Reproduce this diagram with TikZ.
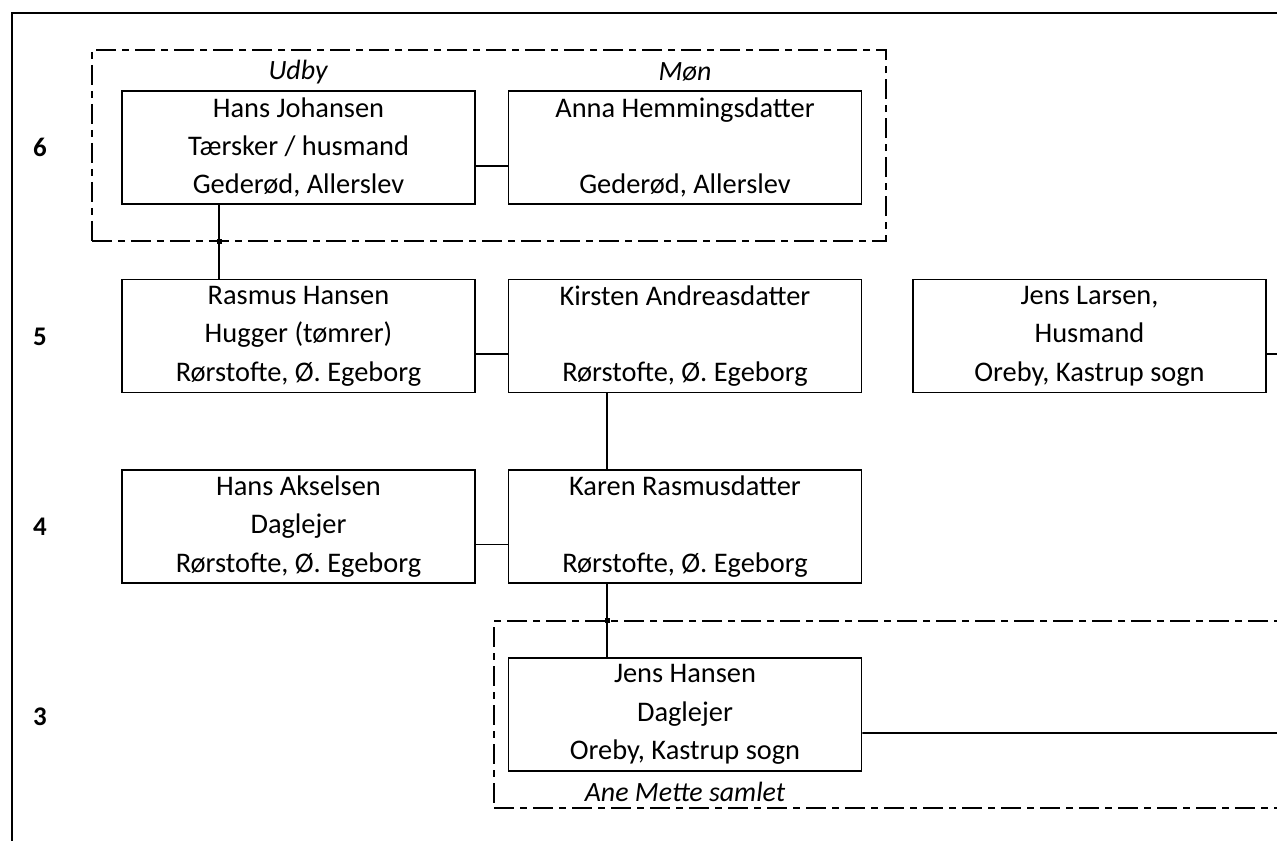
\documentclass[tikz,border=0pt]{standalone}
\usepackage{fontspec}
\setmainfont{Carlito}
\begin{document}
\begin{tikzpicture}[x=1bp,y=-1bp,
  person/.style={draw,line width=1.8bp,rectangle,minimum width=353bp,minimum height=113bp,inner sep=0pt,align=center,font=\fontsize{28.5}{38.5}\selectfont},
  group/.style={draw,line width=1.8bp,dash pattern=on 20bp off 6bp on 7bp off 6bp,rectangle,inner sep=0pt},
  lbl/.style={font=\fontsize{28}{30}\selectfont\itshape},
  gen/.style={font=\fontsize{27}{30}\selectfont\bfseries},
  link/.style={line width=1.8bp},
  knot/.style={fill,minimum size=5bp,inner sep=0pt,rectangle}]
\clip (0,0) rectangle (1277,841);
\fill[white] (0,0) rectangle (1277,841);
\draw[line width=1.8bp] (12,900) -- (12,13) -- (1320,13);
% groups
\node[group,minimum width=794bp,minimum height=191bp] (grp1) at (489,145.5) {};
\node[group,minimum width=820bp,minimum height=187bp] (grp2) at (904,714.5) {};
% generation labels
\node[gen] (g6) at (40,147) {6};
\node[gen] (g5) at (40,337) {5};
\node[gen] (g4) at (40,527) {4};
\node[gen] (g3) at (40,717) {3};
% place labels
\node[lbl] (udby) at (298,72) {Udby};
\node[lbl] (mon) at (685,72) {Møn};
\node[lbl] (ane) at (685,792) {Ane Mette samlet};
% persons
\node[person] (hj) at (298.5,147.5) {Hans Johansen\\Tærsker / husmand\\Gederød, Allerslev};
\node[person] (ah) at (685,147.5) {Anna Hemmingsdatter\\\strut\\Gederød, Allerslev};
\node[person] (rh) at (298.5,336) {Rasmus Hansen\\Hugger (tømrer)\\Rørstofte, Ø. Egeborg};
\node[person] (ka) at (685,336) {Kirsten Andreasdatter\\\strut\\Rørstofte, Ø. Egeborg};
\node[person] (jl) at (1089.5,336) {Jens Larsen,\\Husmand\\Oreby, Kastrup sogn};
\node[person] (ha) at (298.5,526.5) {Hans Akselsen\\Daglejer\\Rørstofte, Ø. Egeborg};
\node[person] (kr) at (685,526.5) {Karen Rasmusdatter\\\strut\\Rørstofte, Ø. Egeborg};
\node[person] (jh) at (685,714.5) {Jens Hansen\\Daglejer\\Oreby, Kastrup sogn};
\coordinate (e1) at (1300,354);
\coordinate (e2) at (1300,733);
% connectors
\draw[link] ([yshift=-18.5bp]hj.east) -- ([yshift=-18.5bp]ah.west);
\draw[link] ([yshift=-18bp]rh.east) -- ([yshift=-18bp]ka.west);
\draw[link] ([yshift=-18bp]ha.east) -- ([yshift=-18bp]kr.west);
\draw[link] ([yshift=-18bp]jl.east) -- (e1);
\draw[link] ([yshift=-18.5bp]jh.east) -- (e2);
\draw[link] ([xshift=-79.5bp]hj.south) -- ([xshift=-79.5bp]hj.south |- rh.north);
\draw[link] ([xshift=-78bp]ka.south) -- ([xshift=-78bp]ka.south |- kr.north);
\draw[link] ([xshift=-78bp]kr.south) -- ([xshift=-78bp]kr.south |- jh.north);
\node[knot] (k1) at ([xshift=-79.5bp]hj.south |- grp1.south) {};
\node[knot] (k2) at ([xshift=-78bp]kr.south |- grp2.north) {};
\end{tikzpicture}
\end{document}
